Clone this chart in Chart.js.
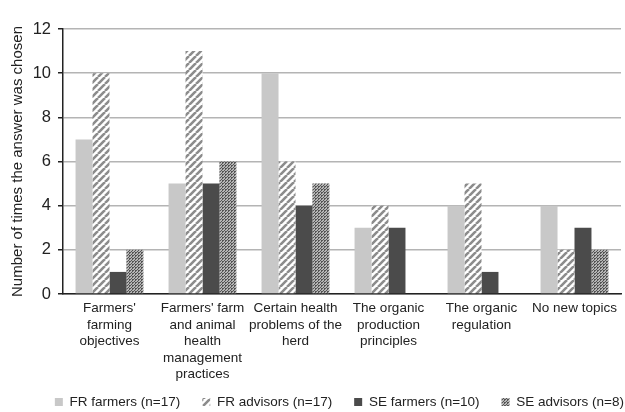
<!DOCTYPE html>
<html>
<head>
<meta charset="utf-8">
<script src="https://cdn.jsdelivr.net/npm/chart.js@4"></script>
<style>
  html, body { margin: 0; padding: 0; background: #fff; }
  #wrap { width: 625px; height: 412px; }
</style>
</head>
<body>
<div id="wrap"><canvas id="myChart" width="625" height="412"></canvas></div>
<script>
// categorías (etiquetas en varias líneas)
const categorias = [
    ["Farmers'", "farming", "objectives"],
    ["Farmers' farm", "and animal", "health", "management", "practices"],
    ["Certain health", "problems of the", "herd"],
    ["The organic", "production", "principles"],
    ["The organic", "regulation"],
    ["No new topics"]
];
const frFarmers = [7, 5, 10, 3, 4, 4];
const frAdvisors = [10, 11, 6, 4, 5, 2];
const seFarmers = [1, 5, 4, 3, 1, 3];
const seAdvisors = [2, 6, 5, 0, 0, 2];
const yTicks = [0, 2, 4, 6, 8, 10, 12];

// patrones
function rayas() {
    const c = document.createElement('canvas');
    c.width = 7; c.height = 7;
    const g = c.getContext('2d');
    g.fillStyle = '#ffffff';
    g.fillRect(0, 0, 7, 7);
    g.strokeStyle = '#8c8c8c';
    g.lineWidth = 2.6;
    g.beginPath();
    for (let k = -7; k <= 14; k += 7) {
        g.moveTo(k, 7);
        g.lineTo(k + 7, 0);
    }
    g.stroke();
    return g.createPattern(c, 'repeat');
}
function puntos() {
    const c = document.createElement('canvas');
    c.width = 3; c.height = 3;
    const g = c.getContext('2d');
    g.fillStyle = '#b5b5b5';
    g.fillRect(0, 0, 3, 3);
    g.fillStyle = '#555555';
    g.fillRect(0, 0, 2, 1);
    g.fillRect(0, 1, 1, 1);
    g.fillRect(2, 2, 1, 1);
    return g.createPattern(c, 'repeat');
}

// ajustes después del layout: no recortar etiquetas, mover leyenda a la derecha
const ajustes = {
    id: 'ajustes',
    afterLayout(chart) {
        chart.scales.x.bottom = chart.height;
        chart.legend.left += 25;
        chart.legend.right += 25;
    }
};

Chart.defaults.font.family = '"Liberation Sans", Arial, sans-serif';
Chart.defaults.color = '#222';

const ctx = document.getElementById('myChart').getContext('2d');
new Chart(ctx, {
    type: 'bar',
    data: {
        labels: categorias,
        datasets: [
            { label: 'FR farmers (n=17)', data: frFarmers, backgroundColor: '#c8c8c8' },
            { label: 'FR advisors (n=17)', data: frAdvisors, backgroundColor: rayas() },
            { label: 'SE farmers (n=10)', data: seFarmers, backgroundColor: '#4b4b4b' },
            { label: 'SE advisors (n=8)', data: seAdvisors, backgroundColor: puntos() }
        ]
    },
    plugins: [ajustes],
    options: {
        responsive: false,
        animation: false,
        devicePixelRatio: 1,
        layout: { padding: { left: 4, right: 4, top: 29, bottom: -6.75 } },
        datasets: { bar: { categoryPercentage: 0.73, barPercentage: 1.0, borderWidth: 0 } },
        plugins: {
            legend: {
                position: 'bottom',
                align: 'end',
                labels: {
                    boxWidth: 8, boxHeight: 8, padding: 22,
                    font: { size: 13.5 }, color: '#222'
                }
            },
            tooltip: { enabled: false }
        },
        scales: {
            x: {
                afterFit: s => { s.height = 79.25; },
                grid: { display: false, drawTicks: false },
                border: { color: '#222', width: 1.5 },
                ticks: { maxRotation: 0, autoSkip: false, font: { size: 13.5, lineHeight: 1.23 }, color: '#222', padding: 6 }
            },
            y: {
                min: 0, max: 12,
                afterFit: s => { s.width = 59; },
                afterBuildTicks: s => { s.ticks = yTicks.map(v => ({ value: v })); },
                grid: { color: '#b4b4b4', lineWidth: 1.5, tickLength: 5, tickColor: '#222' },
                border: { color: '#222', width: 1.5 },
                ticks: { font: { size: 16.5 }, color: '#222', padding: 7 },
                title: {
                    display: true, text: 'Number of times the answer was chosen',
                    font: { size: 15 }, color: '#222', padding: 5
                }
            }
        }
    }
});
</script>
</body>
</html>
